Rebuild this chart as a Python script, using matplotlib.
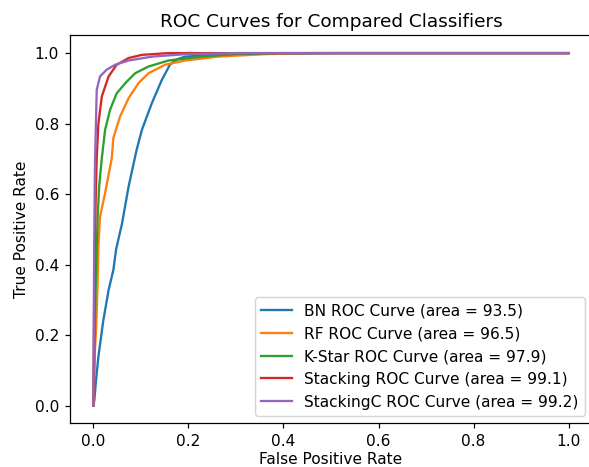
import matplotlib
matplotlib.use('Agg')
from matplotlib import pyplot as plt

# ROC points (fpr, tpr)
bn_fpr = [0.0, 0.002, 0.006, 0.0105, 0.021, 0.032, 0.042, 0.048, 0.060, 0.074, 0.091, 0.102, 0.123, 0.144, 0.161, 0.175, 0.193, 0.25, 0.3, 0.5, 1.0]
bn_tpr = [0.0, 0.016, 0.079, 0.139, 0.243, 0.328, 0.385, 0.445, 0.515, 0.621, 0.726, 0.782, 0.858, 0.924, 0.967, 0.982, 0.990, 0.995, 0.997, 1.0, 1.0]

rf_fpr = [0.0, 0.002, 0.003, 0.006, 0.009, 0.0105, 0.014, 0.0246, 0.0387, 0.042, 0.056, 0.074, 0.095, 0.116, 0.151, 0.193, 0.262, 0.36, 0.45, 1.0]
rf_tpr = [0.0, 0.10, 0.15, 0.225, 0.357, 0.451, 0.536, 0.603, 0.702, 0.759, 0.82, 0.872, 0.915, 0.943, 0.967, 0.979, 0.990, 0.997, 1.0, 1.0]

ks_fpr = [0.0, 0.002, 0.004, 0.007, 0.009, 0.012, 0.0177, 0.0246, 0.035, 0.049, 0.070, 0.088, 0.116, 0.158, 0.228, 0.298, 0.4, 1.0]
ks_tpr = [0.0, 0.12, 0.30, 0.442, 0.536, 0.62, 0.702, 0.782, 0.839, 0.886, 0.919, 0.943, 0.962, 0.979, 0.990, 0.997, 1.0, 1.0]

st_fpr = [0.0, 0.001, 0.002, 0.003, 0.005, 0.007, 0.0105, 0.0177, 0.032, 0.049, 0.074, 0.102, 0.157, 1.0]
st_tpr = [0.0, 0.20, 0.338, 0.45, 0.60, 0.702, 0.80, 0.877, 0.934, 0.967, 0.986, 0.995, 1.0, 1.0]

sc_fpr = [0.0, 0.001, 0.002, 0.003, 0.0036, 0.007, 0.014, 0.028, 0.046, 0.074, 0.123, 0.193, 0.3, 1.0]
sc_tpr = [0.0, 0.30, 0.50, 0.65, 0.702, 0.896, 0.934, 0.953, 0.967, 0.979, 0.990, 0.997, 1.0, 1.0]

labels = ['BN ROC Curve (area = 93.5)',
          'RF ROC Curve (area = 96.5)',
          'K-Star ROC Curve (area = 97.9)',
          'Stacking ROC Curve (area = 99.1)',
          'StackingC ROC Curve (area = 99.2)']


def main():
    s = 1.053
    plt.rcParams['font.size'] = 10 * s
    plt.rcParams['axes.titlesize'] = 12 * s
    plt.rcParams['lines.linewidth'] = 1.5 * s
    plt.rcParams['axes.linewidth'] = 0.8 * s
    plt.rcParams['xtick.major.width'] = 0.8 * s
    plt.rcParams['ytick.major.width'] = 0.8 * s
    plt.rcParams['xtick.major.size'] = 3.5 * s
    plt.rcParams['ytick.major.size'] = 3.5 * s

    fig = plt.figure(figsize=(589 / 105.3 + 0.002, 467 / 105.3 + 0.002), dpi=105.3)
    ax = fig.add_axes([0.1182, 0.0936, 0.8871, 0.830])
    curves = [(bn_fpr, bn_tpr), (rf_fpr, rf_tpr), (ks_fpr, ks_tpr), (st_fpr, st_tpr), (sc_fpr, sc_tpr)]
    for (fpr, tpr), lab in zip(curves, labels):
        ax.plot(fpr, tpr, label=lab)
    ax.set_xlabel('False Positive Rate', labelpad=2)
    ax.set_ylabel('True Positive Rate')
    ax.set_title('ROC Curves for Compared Classifiers')
    ax.legend(loc='lower right')
    fig.savefig('out.png', dpi=105.3)


if __name__ == "__main__":
    main()
